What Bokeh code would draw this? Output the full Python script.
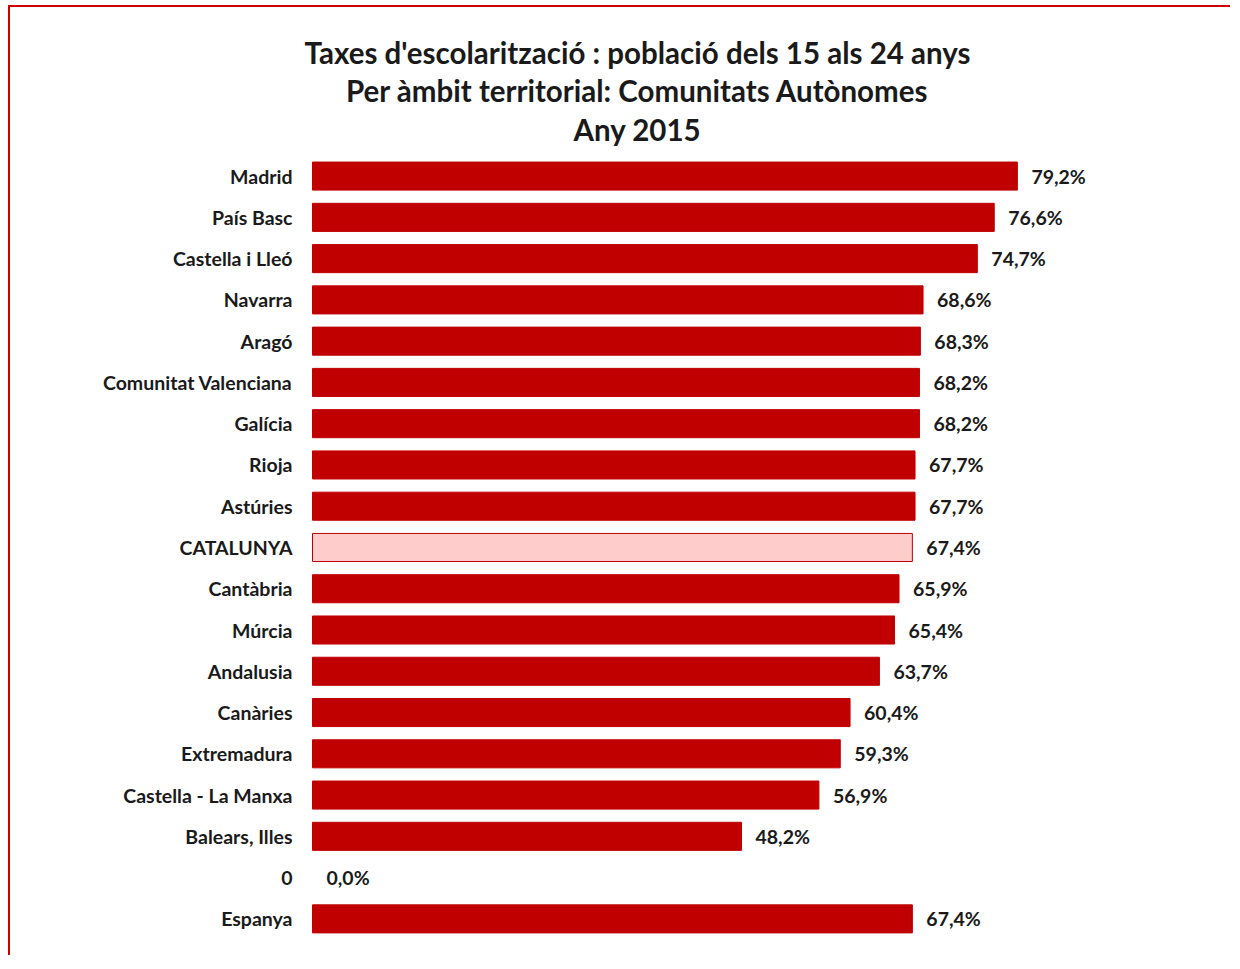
from bokeh.plotting import figure
from bokeh.models import Range1d, Label, ColumnDataSource
from bokeh.embed import file_html
from bokeh.resources import INLINE

categories = ["Madrid", "País Basc", "Castella i Lleó", "Navarra", "Aragó",
              "Comunitat Valenciana", "Galícia", "Rioja", "Astúries", "CATALUNYA",
              "Cantàbria", "Múrcia", "Andalusia", "Canàries", "Extremadura",
              "Castella - La Manxa", "Balears, Illes", "0", "Espanya"]
values = [79.2, 76.6, 74.7, 68.6, 68.3, 68.2, 68.2, 67.7, 67.7, 67.4,
          65.9, 65.4, 63.7, 60.4, 59.3, 56.9, 48.2, 0.0, 67.4]
title_lines = ["Taxes d'escolarització : població dels 15 als 24 anys",
               "Per àmbit territorial: Comunitats Autònomes",
               "Any 2015"]

RED = "#C00000"
FONT = "Lato"
n = len(categories)
ys = [n - 1 - i for i in range(n)]
fills = ["#FFCCCC" if c == "CATALUNYA" else RED for c in categories]
line_alpha = [0.0 if v == 0 else 1.0 for v in values]
labels = [f"{v:.1f}".replace(".", ",") + "%" for v in values]
zeros = [0.0] * n

src = ColumnDataSource(dict(y=ys, v=values, fill=fills, la=line_alpha,
                            lab=labels, cat=categories, z=zeros))

PX_X = 8.90     # pixels per percentage point
PX_Y = 41.28    # pixels per row
W, H = 1222, 950
left = 302
top_extra = 148 / PX_Y
frame_h = int(round(PX_Y * (n + top_extra)))
p = figure(width=W, height=H, output_backend="svg", toolbar_location=None,
           x_range=Range1d(-left / PX_X, (W - left) / PX_X),
           y_range=Range1d(-0.5, n - 0.5 + top_extra),
           min_border_left=0, min_border_right=0, min_border_top=0,
           min_border_bottom=H - frame_h,
           styles={"margin-left": "8px", "margin-top": "5px",
                   "border-left": "2px solid #CC0000",
                   "border-top": "2px solid #CC0000"})
p.outline_line_color = None
p.grid.visible = False
p.axis.visible = False
p.background_fill_color = None
p.border_fill_color = "white"

p.hbar(y="y", right="v", left=0, height=0.68, fill_color="fill",
       fill_alpha="la", line_color=RED, line_alpha="la", line_width=1, source=src)
p.text(x="v", y="y", text="lab", x_offset=14, text_baseline="middle",
       text_align="left", text_font_size="19.5px", text_font_style="bold",
       text_color="#1a1a1a", text_font={"value": FONT}, source=src)
p.text(x="z", y="y", text="cat", x_offset=-20, text_baseline="middle",
       text_align="right", text_font_size="19.5px", text_font_style="bold",
       text_color="#1a1a1a", text_font={"value": FONT}, source=src)

title_y = [21.0, 20.08, 19.14]
for t, ty in zip(title_lines, title_y):
    p.add_layout(Label(x=(637 - 312) / PX_X, y=ty, text=t, text_align="center",
                       text_baseline="middle", text_font=FONT,
                       text_font_style="bold", text_font_size="29.5px",
                       text_color="#1a1a1a"))

open("out.html", "w").write(file_html(p, INLINE))
